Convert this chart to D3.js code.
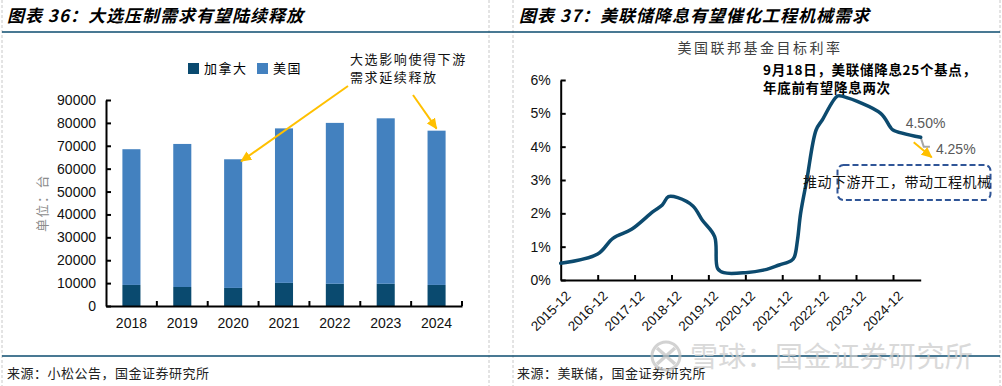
<!DOCTYPE html>
<html>
<head>
<meta charset="utf-8">
<script src="https://cdn.jsdelivr.net/npm/d3@7"></script>
<style>
  body { margin: 0; background: #fff; }
  svg { display: block; }
</style>
</head>
<body>
<div class="chart-holder"></div>
<script>
// left chart: Komatsu unit sales (units)
const years = ["2018", "2019", "2020", "2021", "2022", "2023", "2024"];
const canada = [9200, 8300, 7900, 10100, 9700, 9700, 9200];
const usa = [59300, 62500, 56200, 67500, 70300, 72300, 67400];
const unitTicks = [0, 10000, 20000, 30000, 40000, 50000, 60000, 70000, 80000, 90000];
const seriesNames = ["加拿大", "美国"];

// right chart: fed funds target rate (%)
const rateMonths = ["2015-12", "2016-12", "2017-05", "2017-11", "2018-06", "2018-09", "2018-11",
  "2019-02", "2019-07", "2019-10", "2020-02", "2020-03", "2020-05", "2020-12", "2021-07", "2021-11",
  "2022-03", "2022-04", "2022-05", "2022-06", "2022-08", "2022-11", "2023-01", "2023-06", "2023-08",
  "2024-08", "2024-11", "2024-12", "2025-09"];
const rateValues = [0.5, 0.78, 1.25, 1.52, 2.05, 2.25, 2.5,
  2.47, 2.22, 1.8, 1.3, 0.35, 0.22, 0.22, 0.32, 0.45,
  0.58, 0.7, 1.2, 2.0, 3.0, 4.5, 4.8, 5.52, 5.5,
  5.0, 4.6, 4.5, 4.28];
const projMonths = ["2025-09", "2025-10", "2025-12"];
const projValues = [4.28, 4.0, 4.0];
const rateTicks = [0, 1, 2, 3, 4, 5, 6];
const rateLabels = ["2015-12", "2016-12", "2017-12", "2018-12", "2019-12", "2020-12",
  "2021-12", "2022-12", "2023-12", "2024-12"];

function controller() {
  const width = 1002;
  const height = 386;
  const cjk = "'Noto Sans CJK SC', sans-serif";
  const num = "'Liberation Sans', Arial, sans-serif";
  const navy = "#0c4a6e";
  const gold = "#FFC000";

  const svg = d3.select(".chart-holder")
    .append("svg")
    .attr("width", width)
    .attr("height", height);

  const defs = svg.append("defs");
  defs.append("marker")
    .attr("id", "head")
    .attr("markerUnits", "userSpaceOnUse")
    .attr("markerWidth", 11).attr("markerHeight", 10)
    .attr("refX", 10).attr("refY", 5)
    .attr("orient", "auto")
    .append("path").attr("d", "M0,0L11,5L0,10z").attr("fill", gold);
  defs.append("clipPath").attr("id", "rightClip")
    .append("rect").attr("x", 500).attr("y", 0).attr("width", 492).attr("height", 356);

  // frame
  svg.selectAll(".sep")
    .data([2, 489, 513, 1000])
    .join("line")
    .attr("x1", d => d).attr("x2", d => d)
    .attr("y1", 0).attr("y2", height)
    .attr("stroke", "#c8c8c8").attr("stroke-dasharray", "3,2");
  svg.selectAll(".rule")
    .data([32, 356])
    .join("line")
    .attr("x1", 2).attr("x2", 1000)
    .attr("y1", d => d).attr("y2", d => d)
    .attr("stroke", "#0d4d6f").attr("stroke-width", 1.5);

  const titles = [
    { x: 7, text: "图表 36：大选压制需求有望陆续释放" },
    { x: 519, text: "图表 37：美联储降息有望催化工程机械需求" }
  ];
  svg.selectAll(".title")
    .data(titles)
    .join("text")
    .attr("x", d => d.x).attr("y", 22)
    .attr("font-family", cjk).attr("font-size", 17).attr("font-weight", 700)
    .attr("font-style", "italic").attr("letter-spacing", 1)
    .text(d => d.text);

  const sources = [
    { x: 7, text: "来源：小松公告，国金证券研究所" },
    { x: 517, text: "来源：美联储，国金证券研究所" }
  ];
  svg.selectAll(".src")
    .data(sources)
    .join("text")
    .attr("x", d => d.x).attr("y", 378)
    .attr("font-family", cjk).attr("font-size", 13).attr("letter-spacing", 0.5)
    .attr("fill", "#222")
    .text(d => d.text);

  // ---------- left chart ----------
  const x = d3.scaleBand().domain(years).range([106, 462]).paddingInner(0.645).paddingOuter(0.3225);
  const y = d3.scaleLinear().domain([0, 90000]).range([306, 100]);

  const table = years.map((yr, i) => ({ year: yr, canada: canada[i], usa: usa[i] }));
  const stacked = d3.stack().keys(["canada", "usa"])(table);
  const barColors = ["#0a4a6f", "#4381bf"];

  const gl = svg.append("g");
  gl.selectAll(".layer")
    .data(stacked)
    .join("g")
    .attr("fill", (d, i) => barColors[i])
    .selectAll("rect")
    .data(d => d)
    .join("rect")
    .attr("x", d => x(d.data.year))
    .attr("y", d => y(d[1]))
    .attr("width", x.bandwidth())
    .attr("height", d => y(d[0]) - y(d[1]));

  const yAxisL = gl.append("g")
    .attr("transform", "translate(106,0)")
    .call(d3.axisLeft(y).tickValues(unitTicks).tickFormat(d3.format("d"))
      .tickSizeInner(-5).tickSizeOuter(0).tickPadding(10));
  yAxisL.select(".domain").attr("stroke-width", 2);
  yAxisL.selectAll(".tick line").attr("stroke-width", 2);
  yAxisL.selectAll("text").attr("font-family", num).attr("font-size", 14).attr("fill", "#111");

  const xAxisL = gl.append("g")
    .attr("transform", "translate(0,306)")
    .call(d3.axisBottom(x).tickSize(0).tickPadding(12));
  xAxisL.select(".domain").attr("stroke-width", 2);
  xAxisL.selectAll("text").attr("font-family", num).attr("font-size", 14).attr("fill", "#111");
  gl.selectAll(".btick")
    .data(years)
    .join("line")
    .attr("x1", (d, i) => 106 + (i + 1) * x.step())
    .attr("x2", (d, i) => 106 + (i + 1) * x.step())
    .attr("y1", 306).attr("y2", 301)
    .attr("stroke", "#000").attr("stroke-width", 2);

  gl.append("text")
    .attr("transform", "translate(47,203) rotate(-90)")
    .attr("text-anchor", "middle")
    .attr("font-family", cjk).attr("font-size", 13).attr("letter-spacing", 1.5)
    .attr("fill", "#8c8c8c")
    .text("单位：台");

  // legend
  const legend = gl.selectAll(".leg")
    .data(seriesNames)
    .join("g")
    .attr("transform", (d, i) => `translate(${188 + i * 69},63)`);
  legend.append("rect").attr("width", 11).attr("height", 11).attr("fill", (d, i) => barColors[i]);
  legend.append("text")
    .attr("x", 16).attr("y", 10)
    .attr("font-family", cjk).attr("font-size", 13).attr("letter-spacing", 1.5)
    .text(d => d);

  // annotation
  gl.selectAll(".note")
    .data(["大选影响使得下游", "需求延续释放"])
    .join("text")
    .attr("x", 350).attr("y", (d, i) => 64 + i * 18)
    .attr("font-family", cjk).attr("font-size", 13).attr("letter-spacing", 1.6)
    .attr("fill", "#111")
    .text(d => d);

  const i20 = years.indexOf("2020"), i24 = years.indexOf("2024");
  const arrows = [
    { x1: 348, y1: 86, x2: x("2020") + x.bandwidth() - 1, y2: y(canada[i20] + usa[i20]) + 2 },
    { x1: 413, y1: 95, x2: x("2024") + x.bandwidth() / 2, y2: y(canada[i24] + usa[i24]) - 2 }
  ];
  gl.selectAll(".arrow")
    .data(arrows)
    .join("line")
    .attr("x1", d => d.x1).attr("y1", d => d.y1)
    .attr("x2", d => d.x2).attr("y2", d => d.y2)
    .attr("stroke", gold).attr("stroke-width", 2)
    .attr("marker-end", "url(#head)");

  // ---------- right chart ----------
  const parse = d3.timeParse("%Y-%m");
  const xr = d3.scaleTime().domain([parse("2015-12"), parse("2025-09")]).range([560.7, 920.7]);
  const yr = d3.scaleLinear().domain([0, 6]).range([280, 80]);

  const gr = svg.append("g");

  gr.append("text")
    .attr("x", 760).attr("y", 53)
    .attr("text-anchor", "middle")
    .attr("font-family", cjk).attr("font-size", 14).attr("letter-spacing", 2.5)
    .attr("fill", "#404040")
    .text("美国联邦基金目标利率");

  const yAxisR = gr.append("g")
    .attr("transform", "translate(560.7,0)")
    .call(d3.axisLeft(yr).tickValues(rateTicks).tickFormat(d => d + "%")
      .tickSizeInner(-5).tickSizeOuter(0).tickPadding(10));
  yAxisR.select(".domain").attr("stroke-width", 2);
  yAxisR.selectAll(".tick line").attr("stroke-width", 2);
  yAxisR.selectAll("text").attr("font-family", num).attr("font-size", 14).attr("fill", "#111");

  const xAxisR = gr.append("g")
    .attr("transform", "translate(0,280)")
    .call(d3.axisBottom(xr).tickValues(rateLabels.slice(1).map(parse))
      .tickFormat("").tickSizeInner(-5).tickSizeOuter(0));
  xAxisR.select(".domain").attr("stroke-width", 2);
  xAxisR.selectAll(".tick line").attr("stroke-width", 2);

  gr.selectAll(".xlab")
    .data(rateLabels)
    .join("text")
    .attr("transform", d => `translate(${xr(parse(d)) + 4},290) rotate(-45)`)
    .attr("text-anchor", "end").attr("dy", "0.71em")
    .attr("font-family", num).attr("font-size", 13.5).attr("fill", "#111")
    .text(d => d);

  const rates = rateMonths.map((m, i) => ({ date: parse(m), v: rateValues[i] }));
  const proj = projMonths.map((m, i) => ({ date: parse(m), v: projValues[i] }));

  gr.append("path")
    .datum(proj)
    .attr("fill", "none").attr("stroke", "#a6a6a6").attr("stroke-width", 2)
    .attr("d", d3.line().x(d => xr(d.date)).y(d => yr(d.v)));

  gr.append("path")
    .datum(rates)
    .attr("fill", "none").attr("stroke", navy).attr("stroke-width", 3.5)
    .attr("stroke-linecap", "round").attr("stroke-linejoin", "round")
    .attr("d", d3.line().x(d => xr(d.date)).y(d => yr(d.v)).curve(d3.curveCatmullRom.alpha(0.5)));

  const last = rates[rates.length - 1];
  const projEnd = proj[proj.length - 1];
  gr.append("text")
    .attr("x", xr(last.date) - 15).attr("y", yr(last.v) - 9)
    .attr("font-family", num).attr("font-size", 14).attr("fill", "#595959")
    .text("4.50%");
  gr.append("text")
    .attr("x", xr(projEnd.date) + 6).attr("y", yr(projEnd.v) + 7)
    .attr("font-family", num).attr("font-size", 14).attr("fill", "#595959")
    .text("4.25%");

  gr.append("line")
    .attr("x1", xr(last.date) - 7).attr("y1", yr(last.v) + 5)
    .attr("x2", xr(last.date) + 11).attr("y2", yr(last.v) + 20)
    .attr("stroke", gold).attr("stroke-width", 2)
    .attr("marker-end", "url(#head)");

  gr.append("text")
    .attr("x", 763).attr("y", 75)
    .attr("font-family", cjk).attr("font-size", 13.5).attr("font-weight", 700)
    .attr("letter-spacing", 0.7)
    .text("9月18日，美联储降息25个基点，");
  gr.append("text")
    .attr("x", 763).attr("y", 93)
    .attr("font-family", cjk).attr("font-size", 13.5).attr("font-weight", 700)
    .attr("letter-spacing", 0.7)
    .text("年底前有望降息两次");

  const boxG = gr.append("g").attr("clip-path", "url(#rightClip)");
  boxG.append("rect")
    .attr("x", 837.5).attr("y", 165).attr("width", 153).attr("height", 35).attr("rx", 6)
    .attr("fill", "none").attr("stroke", "#2f5597").attr("stroke-width", 2)
    .attr("stroke-dasharray", "6,3");
  boxG.append("text")
    .attr("x", 803).attr("y", 187)
    .attr("font-family", cjk).attr("font-size", 14).attr("letter-spacing", 0.5)
    .attr("fill", "#111")
    .text("推动下游开工，带动工程机械需求");

  // watermark
  const wm = svg.append("g").attr("opacity", 0.75);
  wm.append("circle").attr("cx", 666).attr("cy", 356).attr("r", 14)
    .attr("fill", "none").attr("stroke", "#c4c4c4").attr("stroke-width", 3);
  wm.append("path")
    .attr("d", "M657,348 Q666,356 675,364 M675,348 Q666,356 657,364")
    .attr("fill", "none").attr("stroke", "#c4c4c4").attr("stroke-width", 3.5);
  wm.append("text")
    .attr("x", 690).attr("y", 367)
    .attr("font-family", cjk).attr("font-size", 28).attr("letter-spacing", 0.3)
    .attr("fill", "#cdcdcd")
    .text("雪球：国金证券研究所");
}

controller();
</script>
</body>
</html>
